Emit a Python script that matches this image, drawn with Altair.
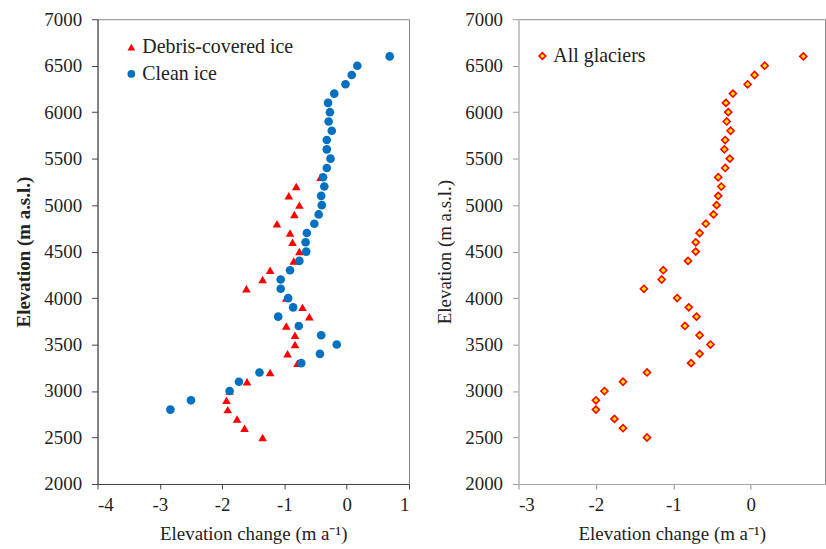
import altair as alt
import pandas as pd

FONT = "Liberation Serif"

# ---- data ----
debris_elev = list(range(2500, 5301, 100))
debris_change = [-1.35, -1.64, -1.76, -1.91, -1.93, -1.88, -1.60, -1.23, -0.79, -0.95,
                 -0.83, -0.83, -0.97, -0.60, -0.71, -0.97, -1.61, -1.35, -1.23, -0.85,
                 -0.76, -0.87, -0.91, -1.12, -0.84, -0.76, -0.93, -0.81, -0.42]

clean_elev = list(range(2800, 6601, 100))
clean_change = [-2.83, -2.50, -1.88, -1.73, -1.40, -0.73, -0.43, -0.16, -0.41, -0.77,
                -1.10, -0.86, -0.94, -1.06, -1.06, -0.91, -0.76, -0.65, -0.66, -0.64,
                -0.52, -0.45, -0.40, -0.41, -0.36, -0.38, -0.32, -0.26, -0.32, -0.32,
                -0.24, -0.29, -0.27, -0.30, -0.20, -0.02, 0.08, 0.17, 0.69]

all_elev = list(range(2500, 6601, 100))
all_change = [-1.34, -1.65, -1.76, -2.00, -2.00, -1.89, -1.65, -1.34, -0.77, -0.66,
              -0.52, -0.66, -0.85, -0.70, -0.80, -0.95, -1.38, -1.15, -1.13, -0.81,
              -0.71, -0.71, -0.66, -0.58, -0.48, -0.44, -0.42, -0.38, -0.42, -0.33,
              -0.27, -0.34, -0.33, -0.26, -0.31, -0.29, -0.32, -0.23, -0.04, 0.05,
              0.18, 0.68]

types = ["Debris-covered ice", "Clean ice"]
x_ticks_left = [-4, -3, -2, -1, 0, 1]
x_ticks_right = [-3, -2, -1, 0]
y_ticks = list(range(2000, 7001, 500))

left_df = pd.DataFrame({
    "elev": debris_elev + clean_elev,
    "change": debris_change + clean_change,
    "type": [types[0]] * len(debris_elev) + [types[1]] * len(clean_elev),
})
right_df = pd.DataFrame({
    "elev": all_elev,
    "change": all_change,
    "series": ["All glaciers"] * len(all_elev),
})

x_title = "Elevation  change (m a\u207b\u00b9)"
y_title = "Elevation (m a.s.l.)"
LBL = "datum.value + ''"

legend_left = alt.Legend(title=None, orient="none", legendX=24, legendY=18,
                         labelFont=FONT, labelFontSize=20, labelColor="#222",
                         symbolSize=60, rowPadding=7, padding=0, labelOffset=1)

left = alt.Chart(left_df).mark_point(filled=True, opacity=1, size=75).encode(
    x=alt.X("change:Q", scale=alt.Scale(domain=[-4, 1], nice=False),
            axis=alt.Axis(values=x_ticks_left, title=x_title, labelExpr=LBL,
                          domainColor="#444", tickColor="#444")),
    y=alt.Y("elev:Q", scale=alt.Scale(domain=[2000, 7000], nice=False),
            axis=alt.Axis(values=y_ticks, title=y_title, titleFontWeight="bold",
                          labelExpr=LBL, domainColor="#444", tickColor="#444")),
    color=alt.Color("type:N", scale=alt.Scale(domain=types, range=["#FF0000", "#0070C0"]),
                    legend=legend_left),
    shape=alt.Shape("type:N", scale=alt.Scale(domain=types, range=["triangle-up", "circle"]),
                    legend=legend_left),
).properties(width=313, height=467)

right = alt.Chart(right_df).mark_point(filled=True, opacity=1, size=50, shape="diamond",
                                       stroke="#FF0000", strokeWidth=1.6).encode(
    x=alt.X("change:Q", scale=alt.Scale(domain=[-3, 0.96], nice=False),
            axis=alt.Axis(values=x_ticks_right, title=x_title, labelExpr=LBL,
                          domainColor="#aaa", tickColor="#888")),
    y=alt.Y("elev:Q", scale=alt.Scale(domain=[2000, 7000], nice=False),
            axis=alt.Axis(values=y_ticks, title=y_title, labelExpr=LBL,
                          domainColor="#ccc", tickColor="#999")),
    fill=alt.Fill("series:N", scale=alt.Scale(range=["#FFE600"]),
                  legend=alt.Legend(title=None, orient="none", legendX=437, legendY=27,
                                    labelFont=FONT, labelFontSize=20, labelColor="#222",
                                    symbolType="diamond", symbolSize=45,
                                    symbolStrokeColor="#FF0000", symbolStrokeWidth=1.6,
                                    padding=0, labelOffset=1)),
).properties(width=308, height=467)

chart = alt.hconcat(left, right, spacing=25).properties(
    padding={"left": 14, "top": 8, "right": 0, "bottom": 0},
    background="white",
).configure_view(
    stroke="#888", strokeWidth=1
).configure_axis(
    grid=False,
    labelFont=FONT, labelFontSize=19, labelColor="#222",
    titleFont=FONT, titleFontSize=19, titleColor="#222", titleFontWeight="normal",
    tickSize=6, labelPadding=10, titlePadding=10,
).configure_axisX(
    tickSize=5, labelPadding=7, titlePadding=10,
)

chart.save("out.html", embed_options={"renderer": "svg", "actions": False})
